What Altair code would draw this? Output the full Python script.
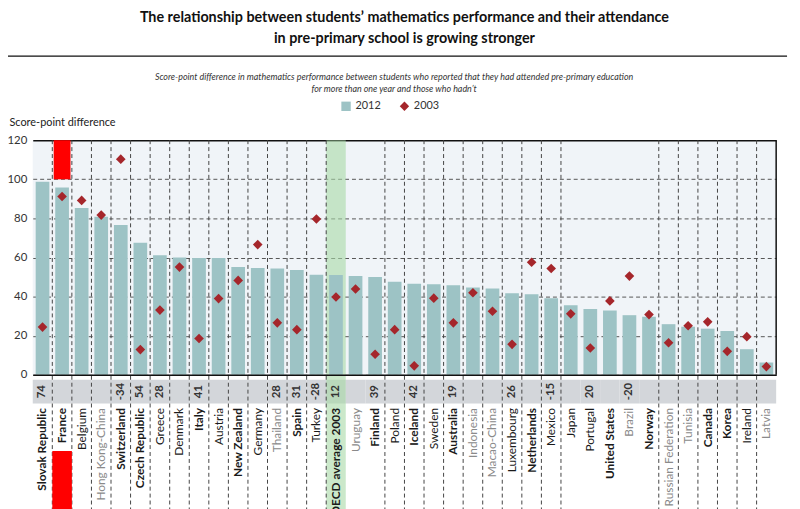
import altair as alt
import pandas as pd

title_lines = ["The relationship between students\u2019 mathematics performance and their attendance",
               "in pre-primary school is growing stronger"]
subtitle_lines = ["Score-point difference in mathematics performance between students who reported that they had attended pre-primary education",
                  "for more than one year and those who hadn\u2019t"]
y_title = "Score-point difference"
series_names = ["2012", "2003"]

countries = ["Slovak Republic", "France", "Belgium", "Hong Kong-China", "Switzerland", "Czech Republic",
             "Greece", "Denmark", "Italy", "Austria", "New Zealand", "Germany", "Thailand", "Spain",
             "Turkey", "OECD average 2003", "Uruguay", "Finland", "Poland", "Iceland", "Sweden",
             "Australia", "Indonesia", "Macao-China", "Luxembourg", "Netherlands", "Mexico", "Japan",
             "Portugal", "United States", "Brazil", "Norway", "Russian Federation", "Tunisia", "Canada",
             "Korea", "Ireland", "Latvia"]
v2012 = [98.8, 95.8, 85.3, 80.8, 76.6, 67.5, 61.2, 60.0, 59.7, 59.7, 55.1, 54.6, 54.4, 53.6, 51.2,
         51.0, 50.5, 50.0, 47.6, 46.6, 46.3, 45.8, 44.6, 44.2, 41.7, 41.2, 39.2, 35.6, 33.6, 32.9,
         30.5, 29.7, 25.9, 24.6, 23.6, 22.4, 13.1, 6.3]
v2003 = [24.4, 91.2, 89.2, 81.7, 110.3, 12.9, 33.1, 55.1, 18.6, 39.0, 48.3, 66.6, 26.6, 23.1, 79.7,
         39.8, 43.9, 10.5, 23.1, 4.6, 39.2, 26.6, 42.0, 32.5, 15.6, 57.6, 54.4, 31.2, 13.7, 37.8,
         50.5, 30.8, 16.4, 25.1, 27.1, 12.0, 19.5, 4.2]
diff_labels = ["74", "", "", "", "-34", "54", "28", "", "41", "", "", "", "28", "31", "-28", "12",
               "", "39", "", "42", "", "19", "", "", "26", "", "-15", "", "20", "", "-20",
               "", "", "", "", "", "", ""]
bold_labels = ["Slovak Republic", "France", "Switzerland", "Czech Republic", "Italy", "New Zealand",
               "Spain", "OECD average 2003", "Finland", "Iceland", "Australia", "Netherlands",
               "United States", "Norway", "Canada", "Korea"]
partner_labels = ["Hong Kong-China", "Thailand", "Uruguay", "Indonesia", "Macao-China", "Brazil",
                  "Russian Federation", "Tunisia", "Latvia"]
average_label = "OECD average 2003"
highlight_label = "France"
highlight_range = [100, 120]
y_ticks = [0, 20, 40, 60, 80, 100, 120]
# countries whose left band edge carries a dashed gridline
vline_countries = countries[1:16] + countries[18:28] + countries[32:38]

df = pd.DataFrame({"country": countries, "v2012": v2012, "v2003": v2003, "diff": diff_labels})
one = pd.DataFrame({"k": [0]})

W, H = 751, 237
BOTTOM = H + 140
FONT = "Lato"

xscale = alt.Scale(domain=countries, paddingInner=0, paddingOuter=0)
yscale = alt.Scale(domain=[0, 120], nice=False)

def lst(items):
    return "[" + ",".join("'" + s.replace("'", "\\'") + "'" for s in items) + "]"

bold_test = f"indexof({lst(bold_labels)}, datum.value) >= 0"
partner_test = f"indexof({lst(partner_labels)}, datum.value) >= 0"

x_axis = alt.Axis(title=None, labelAngle=270, labelPadding=33, ticks=False, domain=True,
                  domainColor="#111", domainWidth=1.5, grid=False, labelFont=FONT, labelFontSize=12,
                  labelLimit=300,
                  labelFontWeight={"condition": {"test": bold_test, "value": "bold"}, "value": "normal"},
                  labelColor={"condition": {"test": partner_test, "value": "#8a8a8a"}, "value": "#1a1a1a"})
y_axis = alt.Axis(values=y_ticks, title=y_title, titleAngle=0, titleAlign="left", titleBaseline="middle",
                  titleX=-24, titleY=-18, titleFont=FONT, titleFontSize=11, titleFontWeight="normal",
                  titleColor="#222", labelFont=FONT, labelFontSize=11.5, labelColor="#333",
                  labelPadding=6, labelOverlap=False, ticks=False, domain=False, grid=True,
                  gridDash={"condition": {"test": "datum.value === 120", "value": [1, 0]}, "value": [4, 3]},
                  gridColor={"condition": {"test": "datum.value === 120", "value": "#111"}, "value": "#555"},
                  gridWidth={"condition": {"test": "datum.value === 120", "value": 1.5}, "value": 1})

base = alt.Chart(df)

# number band
band = base.mark_rect(color="#d3d6da").encode(
    x=alt.X("country:N", scale=xscale, axis=x_axis),
    y=alt.value(H + 5), y2=alt.value(H + 29))

avg_col = base.transform_filter(alt.datum.country == average_label).mark_rect(
    color="#a9d8a6", opacity=0.6).encode(
    x=alt.X("country:N", scale=xscale), y=alt.value(0), y2=alt.value(BOTTOM))

vlines = alt.Chart(pd.DataFrame({"country": vline_countries})).mark_rule(
    color="#444", strokeDash=[4, 3], strokeWidth=1).encode(
    x=alt.X("country:N", scale=xscale, bandPosition=0), y=alt.value(0), y2=alt.value(BOTTOM))

legend = alt.Legend(orient="none", legendX=311, legendY=-40, direction="horizontal", title=None,
                    labelFont=FONT, labelFontSize=11, labelColor="#333", symbolSize=90,
                    columnPadding=18, symbolStrokeWidth=0)
color_scale = alt.Scale(domain=series_names, range=["#9dc3c5", "#a5262b"])
shape_scale = alt.Scale(domain=series_names, range=["square", "diamond"])

bars = base.transform_calculate(series="'" + series_names[0] + "'").mark_bar(
    width=alt.RelativeBandSize(0.7)).encode(
    x=alt.X("country:N", scale=xscale),
    y=alt.Y("v2012:Q", scale=yscale, axis=y_axis),
    color=alt.Color("series:N", scale=color_scale, legend=legend))

hl_top = base.transform_filter(alt.datum.country == highlight_label).mark_bar(
    color="#ff0000", width=alt.RelativeBandSize(0.86)).encode(
    x=alt.X("country:N", scale=xscale),
    y=alt.datum(highlight_range[0], scale=yscale, axis=y_axis), y2=alt.datum(highlight_range[1]))

hl_bottom = base.transform_filter(alt.datum.country == highlight_label).mark_rect(
    color="#ff0000").encode(
    x=alt.X("country:N", scale=xscale), y=alt.value(H + 77), y2=alt.value(BOTTOM))

points = base.transform_calculate(series="'" + series_names[1] + "'").mark_point(
    filled=True, size=95, opacity=1).encode(
    x=alt.X("country:N", scale=xscale),
    y=alt.Y("v2003:Q", scale=yscale, axis=y_axis),
    color=alt.Color("series:N", scale=color_scale, legend=legend),
    shape=alt.Shape("series:N", scale=shape_scale, legend=legend))

nums = base.transform_filter(alt.datum.diff != "").mark_text(
    angle=270, font=FONT, fontSize=11.5, fontWeight="bold", color="#333", baseline="middle",
    align="center").encode(
    x=alt.X("country:N", scale=xscale), y=alt.value(H + 17), text="diff:N")

right_border = alt.Chart(one).mark_rule(color="#111", strokeWidth=1.5).encode(
    x=alt.value(W), y=alt.value(0), y2=alt.value(H))

title_rule = alt.Chart(one).mark_rule(color="#111", strokeWidth=1.3).encode(
    x=alt.value(-28), x2=alt.value(762), y=alt.value(-85))

sub1 = alt.Chart(one).mark_text(font=FONT, fontSize=9, fontStyle="italic", color="#333",
                                align="center", baseline="middle").encode(
    x=alt.value(365), y=alt.value(-64), text=alt.value(subtitle_lines[0]))
sub2 = alt.Chart(one).mark_text(font=FONT, fontSize=9, fontStyle="italic", color="#333",
                                align="center", baseline="middle").encode(
    x=alt.value(365), y=alt.value(-52), text=alt.value(subtitle_lines[1]))

chart = alt.layer(band, avg_col, vlines, bars, hl_top, hl_bottom, points, nums, right_border,
                  title_rule, sub1, sub2).properties(
    width=W, height=H,
    title=alt.TitleParams(text=title_lines, font=FONT, fontSize=14.5, fontWeight="bold",
                          color="#111", anchor="middle", offset=9, lineHeight=21),
    autosize=alt.AutoSizeParams(type="none"),
    padding={"left": 25, "top": 131, "right": 16, "bottom": 133},
).configure_view(stroke=None, fill="#f0f4f8")

chart.save("out.html", embed_options={"renderer": "svg", "actions": False})
